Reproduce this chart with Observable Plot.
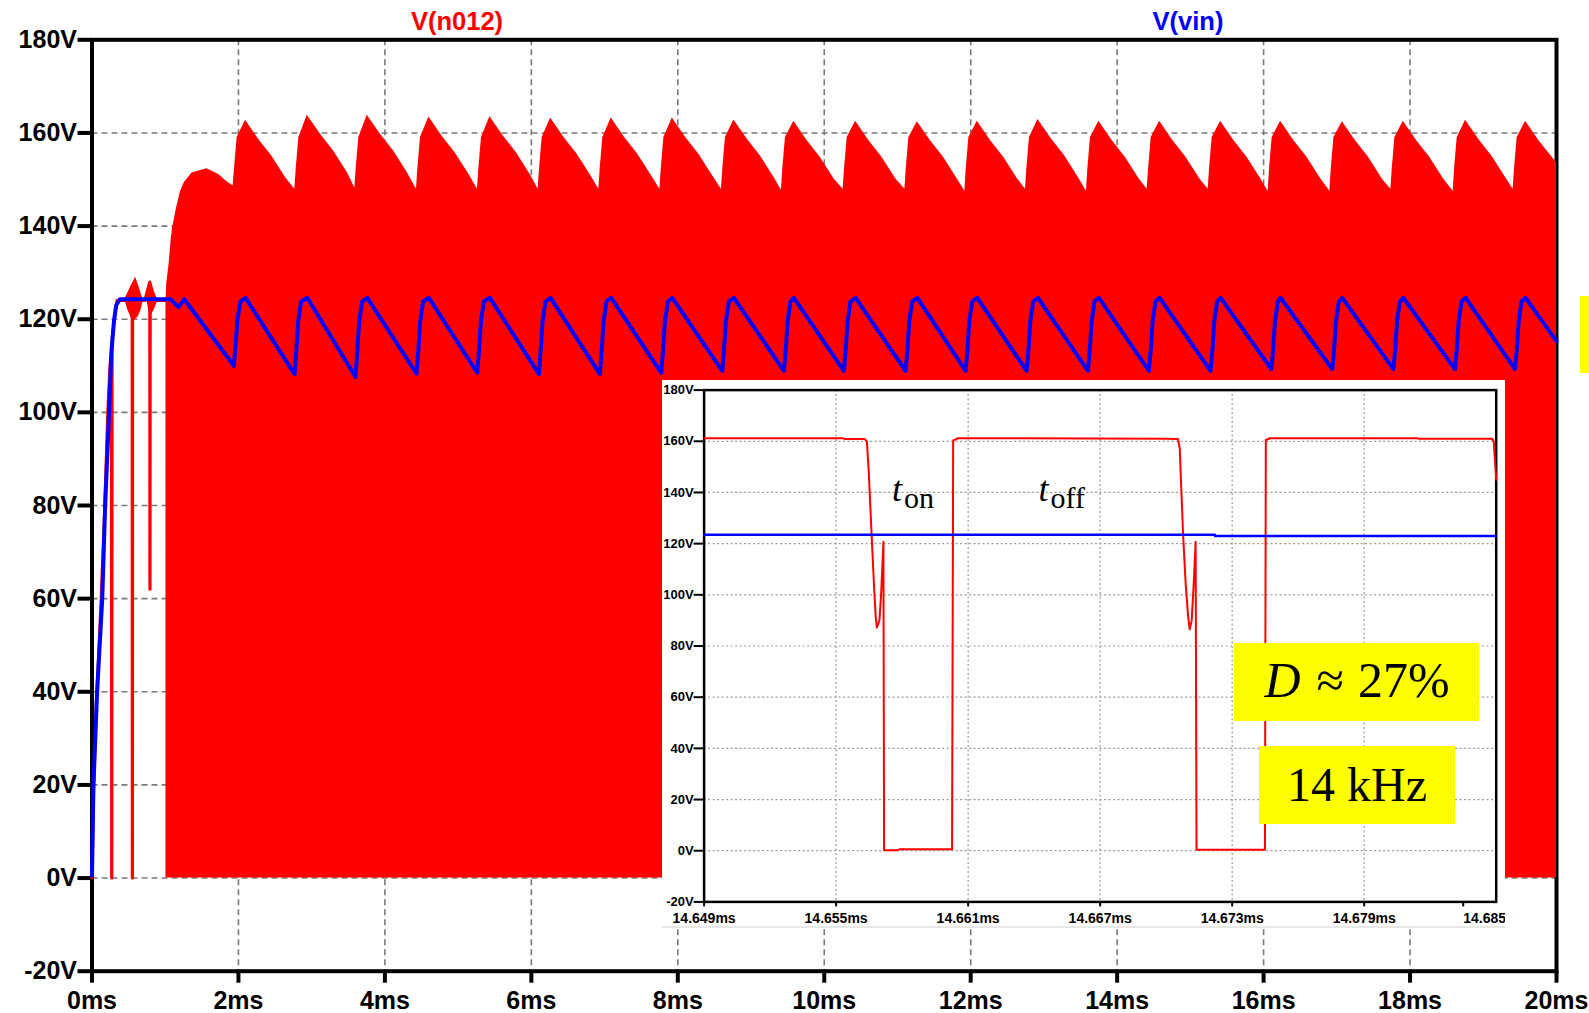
<!DOCTYPE html>
<html><head><meta charset="utf-8">
<script src="https://cdn.jsdelivr.net/npm/d3@7"></script>
<script src="https://cdn.jsdelivr.net/npm/@observablehq/plot@0.6"></script>
<style>
html,body{margin:0;padding:0;background:#fff;}
#root{position:relative;width:1589px;height:1013px;overflow:hidden;background:#fff;}
#main{position:absolute;left:0;top:0;}
#inset{position:absolute;left:662px;top:380px;width:843px;height:547px;overflow:hidden;background:#fff;}
#overlay{position:absolute;left:0;top:0;}
</style></head>
<body>
<div id="root"><div id="main"></div><div id="inset"></div><svg id="overlay" width="1589" height="1013"></svg></div>
<script>
// ---------- DATA ----------
const mainTimeTicks = [0, 2, 4, 6, 8, 10, 12, 14, 16, 18, 20];           // ms
const mainVoltTicks = [-20, 0, 20, 40, 60, 80, 100, 120, 140, 160, 180]; // V
const insetTimeTicks = [14.649, 14.655, 14.661, 14.667, 14.673, 14.679, 14.685]; // ms
const insetVoltTicks = [-20, 0, 20, 40, 60, 80, 100, 120, 140, 160, 180];

// V(vin): [time ms, volts]
const vinPoints = [
  [0,0.5],[0.02,20],[0.07,40],[0.14,60],[0.18,80],[0.22,95],[0.265,113],[0.30,119.6],[0.33,123],[0.38,124.3],
  [1.07,124.3],[1.18,122.6],[1.26,124.3],
  [1.937,110.0],[1.962,115],[1.987,120],[2.027,123.8],[2.097,124.6],
  [2.766,108.2],[2.791,113.5],[2.816,119.5],[2.856,123.8],[2.940,124.6],
  [3.599,107.6],[3.624,113.5],[3.649,119.5],[3.689,123.8],[3.759,124.6],
  [4.432,108.3],[4.457,113.5],[4.482,119.5],[4.522,123.8],[4.601,124.6],
  [5.261,108.5],[5.286,113.5],[5.311,119.5],[5.351,123.8],[5.434,124.6],
  [6.103,108.2],[6.128,113.5],[6.153,119.5],[6.193,123.8],[6.263,124.6],
  [6.936,108.2],[6.961,113.5],[6.986,119.5],[7.026,123.8],[7.091,124.6],
  [7.774,108.5],[7.799,113.5],[7.824,119.5],[7.864,123.8],[7.925,124.6],
  [8.607,108.9],[8.632,113.5],[8.657,119.5],[8.697,123.8],[8.766,124.6],
  [9.449,108.9],[9.474,113.5],[9.499,119.5],[9.539,123.8],[9.585,124.6],
  [10.268,108.9],[10.293,113.5],[10.318,119.5],[10.358,123.8],[10.428,124.6],
  [11.111,108.9],[11.136,113.5],[11.161,119.5],[11.201,123.8],[11.271,124.6],
  [11.931,108.9],[11.956,113.5],[11.981,119.5],[12.021,123.8],[12.090,124.6],
  [12.764,108.9],[12.789,113.5],[12.814,119.5],[12.854,123.8],[12.918,124.6],
  [13.601,108.9],[13.626,113.5],[13.651,119.5],[13.691,123.8],[13.751,124.6],
  [14.434,108.9],[14.459,113.5],[14.484,119.5],[14.524,123.8],[14.580,124.6],
  [15.276,108.9],[15.301,113.5],[15.326,119.5],[15.366,123.8],[15.413,124.6],
  [16.105,109.3],[16.130,113.5],[16.155,119.5],[16.195,123.8],[16.232,124.6],
  [16.938,109.3],[16.963,113.5],[16.988,119.5],[17.028,123.8],[17.075,124.6],
  [17.772,109.3],[17.797,113.5],[17.822,119.5],[17.862,123.8],[17.908,124.6],
  [18.613,109.3],[18.638,113.5],[18.663,119.5],[18.703,123.8],[18.759,124.6],
  [19.433,109.3],[19.458,113.5],[19.483,119.5],[19.523,123.8],[19.578,124.6],
  [20.0,115.3]
];

// V(n012) upper envelope of the dense switching region (lower edge is 0 V): [time ms, volts]
const n012Envelope = [
  [1.01,124],[1.02,127.5],[1.05,131.4],[1.08,136.8],[1.10,139.6],[1.155,143.9],[1.21,147.5],[1.26,149.3],[1.365,151.4],[1.57,152.3],[1.73,151.1],[1.835,149.6],
  [1.927,148.6],[1.947,152.5],[1.982,159],[2.097,162.7],[2.277,158.6],[2.457,155.0],[2.647,150.3],
  [2.770,147.9],[2.790,152.5],[2.825,159],[2.940,163.8],[3.120,159.7],[3.300,156.1],[3.490,151.4],
  [3.589,148.2],[3.609,152.5],[3.644,159],[3.759,163.8],[3.939,159.7],[4.119,156.1],[4.309,151.4],
  [4.431,147.9],[4.451,152.5],[4.486,159],[4.601,163.4],[4.781,159.3],[4.961,155.7],[5.151,151.0],
  [5.264,147.9],[5.284,152.5],[5.319,159],[5.434,163.5],[5.614,159.4],[5.794,155.8],[5.984,151.1],
  [6.093,147.9],[6.113,152.5],[6.148,159],[6.263,163.2],[6.443,159.1],[6.623,155.5],[6.813,150.8],
  [6.921,147.9],[6.941,152.5],[6.976,159],[7.091,163.2],[7.271,159.1],[7.451,155.5],[7.641,150.8],
  [7.755,147.9],[7.775,152.5],[7.810,159],[7.925,163.2],[8.105,159.1],[8.285,155.5],[8.475,150.8],
  [8.596,147.9],[8.616,152.5],[8.651,159],[8.766,162.8],[8.946,158.7],[9.126,155.1],[9.316,150.4],
  [9.415,147.7],[9.435,152.5],[9.470,159],[9.585,162.5],[9.765,158.4],[9.945,154.8],[10.135,150.1],
  [10.258,147.9],[10.278,152.5],[10.313,159],[10.428,162.5],[10.608,158.4],[10.788,154.8],[10.978,150.1],
  [11.101,147.9],[11.121,152.5],[11.156,159],[11.271,162.4],[11.451,158.3],[11.631,154.7],[11.821,150.0],
  [11.920,147.5],[11.940,152.5],[11.975,159],[12.090,162.5],[12.270,158.4],[12.450,154.8],[12.640,150.1],
  [12.748,147.9],[12.768,152.5],[12.803,159],[12.918,162.9],[13.098,158.8],[13.278,155.2],[13.468,150.5],
  [13.581,147.5],[13.601,152.5],[13.636,159],[13.751,162.5],[13.931,158.4],[14.111,154.8],[14.301,150.1],
  [14.410,147.9],[14.430,152.5],[14.465,159],[14.580,162.5],[14.760,158.4],[14.940,154.8],[15.130,150.1],
  [15.243,147.9],[15.263,152.5],[15.298,159],[15.413,162.5],[15.593,158.4],[15.773,154.8],[15.963,150.1],
  [16.062,147.4],[16.082,152.5],[16.117,159],[16.232,162.5],[16.412,158.4],[16.592,154.8],[16.782,150.1],
  [16.905,147.5],[16.925,152.5],[16.960,159],[17.075,162.4],[17.255,158.3],[17.435,154.7],[17.625,150.0],
  [17.738,147.9],[17.758,152.5],[17.793,159],[17.908,162.5],[18.088,158.4],[18.268,154.8],[18.458,150.1],
  [18.589,147.5],[18.609,152.5],[18.644,159],[18.759,162.7],[18.939,158.6],[19.119,155.0],[19.309,150.3],
  [19.408,147.9],[19.428,152.5],[19.463,159],[19.578,162.5],[19.758,158.4],[20.0,153.6]
];

// V(n012) start-up trace before the dense switching: [time ms, volts]
const n012Startup = [
  [0,0],[0.02,18],[0.06,38],[0.12,58],[0.17,78],[0.215,100],[0.245,110],[0.265,113],[0.268,0],[0.271,0],[0.275,116],
  [0.34,124],[0.45,124],[0.548,127],[0.550,0],[0.553,0],[0.556,124],[0.72,124],[0.788,128],[0.790,62],[0.793,62],[0.796,124],[1.01,124]
];
// ringing bumps: [time ms, low V, high V]
const n012Bump1 = [[0.45,124,124],[0.49,122,125.5],[0.53,120.5,127],[0.57,119.5,128.2],[0.595,120,129],[0.63,120.5,127.5],[0.67,122,125.5],[0.70,124,124]];
const n012Bump2 = [[0.75,124,124],[0.78,121.5,126.5],[0.81,121,128.2],[0.85,122,126],[0.90,124,124]];

// Inset (zoomed) traces: [time ms, volts]
const insetN012 = [
  [14.6490,161.2],[14.6553,161.2],[14.6554,160.9],[14.6563,160.9],[14.6564,159.8],[14.65648,148.6],[14.65661,124.2],[14.65672,103.9],
  [14.65680,91.4],[14.65685,87.2],[14.65697,90.0],[14.65705,101.1],[14.65715,120.7],[14.65718,0.2],[14.6578,0.2],[14.6579,0.6],
  [14.66027,0.6],[14.66032,160.3],[14.66055,161.2],[14.6700,161.0],[14.67054,160.9],[14.67062,157.0],[14.67069,140.9],[14.67077,123.5],
  [14.67089,103.9],[14.67100,91.4],[14.67107,86.5],[14.67116,90.0],[14.67125,103.9],[14.67134,120.7],[14.67138,0.4],[14.67449,0.4],
  [14.67453,160.5],[14.67472,161.2],[14.6814,161.2],[14.6815,161.0],[14.68482,161.0],[14.68489,159.8],[14.6850,145]
];
const insetVin = [[14.649,123.5],[14.67221,123.5],[14.67222,123.0],[14.685,123.0]];

// ---------- DRAWING ----------
const RED = "#ff0000", BLUE = "#0000ff";
const SANS = "'Liberation Sans', Arial, Helvetica, sans-serif";
const SERIF = "'Liberation Serif', 'DejaVu Serif', 'Times New Roman', serif";
const tx = d => d[0], ty = d => d[1];

const mainChart = Plot.plot({
  width: 1589, height: 1013,
  marginLeft: 91.5, marginRight: 33, marginTop: 39.3, marginBottom: 42.3,
  x: {domain: [0, 20], label: null},
  y: {domain: [-20, 180], label: null},
  style: {fontFamily: SANS, fontSize: "25px", fontWeight: "bold", color: "black", background: "white"},
  marks: [
    Plot.gridX(mainTimeTicks.slice(1, -1), {stroke: "#7a7a7a", strokeOpacity: 1, strokeWidth: 1.6, strokeDasharray: "6,4"}),
    Plot.gridY(mainVoltTicks.slice(1, -1), {stroke: "#7a7a7a", strokeOpacity: 1, strokeWidth: 1.6, strokeDasharray: "6,4"}),
    Plot.frame({stroke: "black", strokeWidth: 4}),
    Plot.axisX(mainTimeTicks, {tickSize: 12, tickPadding: 8, strokeWidth: 4, tickFormat: d => `${d}ms`}),
    Plot.axisY(mainVoltTicks, {tickSize: 14, tickPadding: 1, strokeWidth: 4, tickFormat: d => `${d}V`}),
    Plot.areaY(n012Envelope, {x: tx, y1: 0, y2: ty, fill: RED}),
    Plot.areaY(n012Bump1, {x: tx, y1: d => d[1], y2: d => d[2], fill: RED}),
    Plot.areaY(n012Bump2, {x: tx, y1: d => d[1], y2: d => d[2], fill: RED}),
    Plot.line(n012Startup, {x: tx, y: ty, stroke: RED, strokeWidth: 3}),
    Plot.line(vinPoints, {x: tx, y: ty, stroke: BLUE, strokeWidth: 4, strokeLinejoin: "round", strokeLinecap: "round"})
  ]
});
document.getElementById("main").appendChild(mainChart);

const insetChart = Plot.plot({
  width: 843, height: 547,
  marginLeft: 41.6, marginRight: 9.3, marginTop: 9.6, marginBottom: 25.6,
  x: {domain: [14.649, 14.685], label: null},
  y: {domain: [-20, 180], label: null},
  style: {fontFamily: SANS, fontSize: "13.5px", fontWeight: "bold", color: "black", background: "white"},
  marks: [
    Plot.gridX(insetTimeTicks.slice(1, -1), {stroke: "#9a9a9a", strokeOpacity: 1, strokeWidth: 1.2, strokeDasharray: "2,2.5"}),
    Plot.gridY(insetVoltTicks.slice(1, -1), {stroke: "#9a9a9a", strokeOpacity: 1, strokeWidth: 1.2, strokeDasharray: "2,2.5"}),
    Plot.frame({stroke: "black", strokeWidth: 2.5}),
    Plot.axisX(insetTimeTicks.slice(0, -1), {tickSize: 5, tickPadding: 6, strokeWidth: 2, fontSize: 14, tickFormat: d => `${d.toFixed(3)}ms`}),
    Plot.axisX(insetTimeTicks.slice(-1), {tickSize: 5, tickPadding: 6, strokeWidth: 2, fontSize: 14, textAnchor: "start", dx: -33, tickFormat: d => d.toFixed(3)}),
    Plot.axisY(insetVoltTicks, {tickSize: 10, tickPadding: 0.5, strokeWidth: 2, fontSize: 13, tickFormat: d => `${d}V`}),
    Plot.line(insetN012, {x: tx, y: ty, stroke: RED, strokeWidth: 2}),
    Plot.line(insetVin, {x: tx, y: ty, stroke: BLUE, strokeWidth: 2.5})
  ]
});
document.getElementById("inset").appendChild(insetChart);

// ---------- ANNOTATIONS ----------
const ov = d3.select("#overlay");
ov.append("line").attr("x1", 662).attr("x2", 1505).attr("y1", 927).attr("y2", 927).attr("stroke", "#d0d0d0").attr("stroke-width", 1);
ov.append("text").attr("x", 457).attr("y", 29.5).attr("text-anchor", "middle")
  .attr("font-family", SANS).attr("font-weight", "bold").attr("font-size", 25.5).attr("fill", RED).text("V(n012)");
ov.append("text").attr("x", 1188).attr("y", 29.5).attr("text-anchor", "middle")
  .attr("font-family", SANS).attr("font-weight", "bold").attr("font-size", 25.5).attr("fill", BLUE).text("V(vin)");

function sub(x, y, sym, s) {
  const t = ov.append("text").attr("x", x).attr("y", y).attr("font-family", SERIF).attr("fill", "black");
  t.append("tspan").attr("font-style", "italic").attr("font-size", 36).text(sym);
  t.append("tspan").attr("font-size", 30).attr("dx", 2).attr("dy", 7).text(s);
}
sub(892, 500.5, "t", "on");
sub(1038.5, 500.5, "t", "off");

ov.append("rect").attr("x", 1234).attr("y", 643).attr("width", 245).attr("height", 78).attr("fill", "#ffff00");
ov.append("rect").attr("x", 1259).attr("y", 746).attr("width", 196).attr("height", 78).attr("fill", "#ffff00");
ov.append("rect").attr("x", 1580).attr("y", 296).attr("width", 12).attr("height", 77).attr("fill", "#ffff00");

const dText = ov.append("text").attr("x", 1357).attr("y", 697).attr("text-anchor", "middle")
  .attr("font-family", SERIF).attr("font-size", 50).attr("fill", "black");
dText.append("tspan").attr("font-style", "italic").text("D");
dText.append("tspan").attr("dx", 16).text("≈");
dText.append("tspan").attr("dx", 14).text("27%");
ov.append("text").attr("x", 1357).attr("y", 800.5).attr("text-anchor", "middle")
  .attr("font-family", SERIF).attr("font-size", 48).attr("fill", "black").style("white-space", "pre").text("14 kHz");
</script>
</body></html>
